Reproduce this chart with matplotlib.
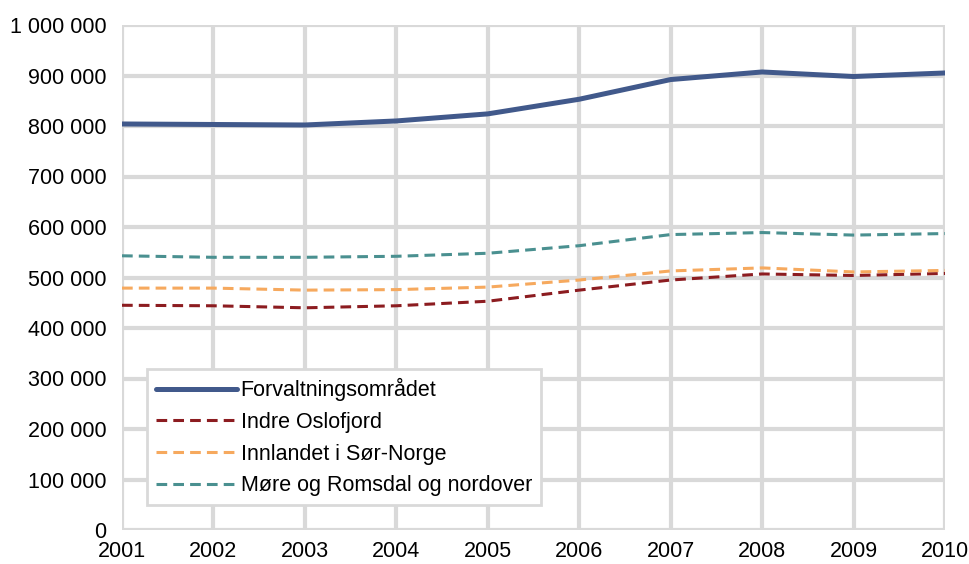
import matplotlib
matplotlib.use("Agg")
import matplotlib.pyplot as plt
from matplotlib.ticker import FuncFormatter, MultipleLocator

plt.rcParams['font.family'] = ['Liberation Sans', 'DejaVu Sans']

years = [2001, 2002, 2003, 2004, 2005, 2006, 2007, 2008, 2009, 2010]
forvaltning = [804000, 803000, 802000, 810000, 824000, 853000, 892000, 907000, 898000, 905000]
indre_oslofjord = [445000, 444000, 440000, 444000, 453000, 475000, 495000, 507000, 504000, 508000]
innlandet = [479000, 479000, 475000, 476000, 481000, 495000, 513000, 519000, 511000, 514000]
more_nordover = [543000, 540000, 540000, 542000, 548000, 563000, 585000, 589000, 584000, 587000]

labels = ["Forvaltningsområdet", "Indre Oslofjord", "Innlandet i Sør-Norge",
          "Møre og Romsdal og nordover"]

fig = plt.figure(figsize=(9.7, 5.64), dpi=100)
ax = fig.add_axes([122/970, 1 - 530/564, (945-122)/970, (530-25)/564])

ax.plot(years, forvaltning, color='#41598b', lw=3.6, label=labels[0], solid_capstyle='round', zorder=5)
ax.plot(years, indre_oslofjord, color='#8c1c20', lw=2.2, dashes=(3.5, 2), label=labels[1], zorder=4)
ax.plot(years, innlandet, color='#f6a95e', lw=2.2, dashes=(3.5, 2), label=labels[2], zorder=4)
ax.plot(years, more_nordover, color='#4a9090', lw=2.2, dashes=(3.5, 2), label=labels[3], zorder=4)

ax.set_xlim(2001, 2010)
ax.set_ylim(0, 1000000)
ax.set_xticks(years)
ax.yaxis.set_major_locator(MultipleLocator(100000))
ax.yaxis.set_major_formatter(FuncFormatter(lambda v, p: f"{int(v):,}".replace(",", " ")))
ax.grid(True, color='#d9d9d9', lw=3)
ax.set_axisbelow(True)
for s in ax.spines.values():
    s.set_visible(False)
ax.tick_params(axis='both', length=0, labelsize=15.5, colors='black')
ax.tick_params(axis='y', pad=11)
ax.tick_params(axis='x', pad=8)

leg = ax.legend(loc='lower left', bbox_to_anchor=((147-122)/823, (530-505)/505), fontsize=15.5,
                frameon=True, fancybox=False, framealpha=1, edgecolor='#d9d9d9',
                handlelength=3.8, handletextpad=0.15, labelspacing=0.5, borderpad=0.4,
                borderaxespad=0)
leg.get_frame().set_linewidth(2)

fig.savefig("out.png", dpi=100)
